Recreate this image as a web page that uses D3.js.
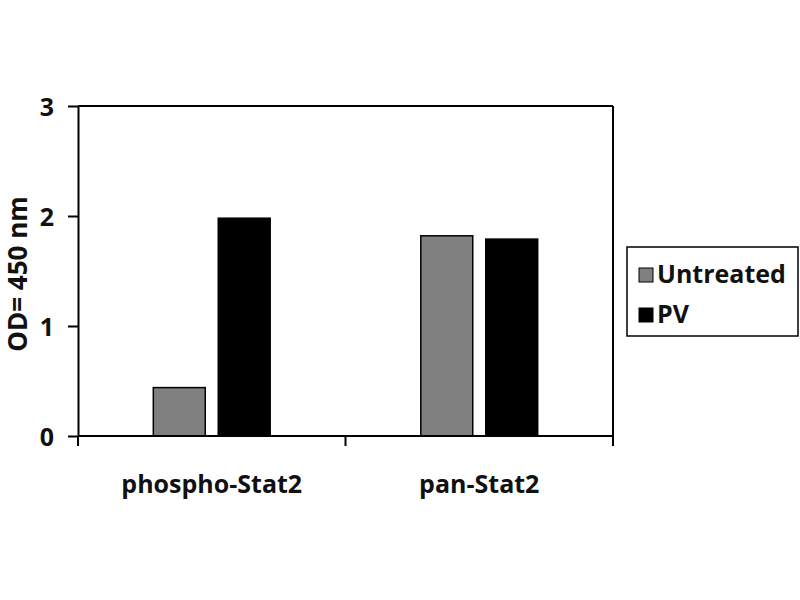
<!DOCTYPE html>
<html>
<head>
<meta charset="utf-8">
<script src="https://cdn.jsdelivr.net/npm/d3@7"></script>
<style>
  html, body { margin: 0; padding: 0; background: #fff; }
  svg { display: block; }
  text { font-family: "Open Sans", "DejaVu Sans", sans-serif; font-weight: bold; fill: #111; }
</style>
</head>
<body>
<svg id="chart" width="800" height="600"></svg>
<script>
const categories = ["phospho-Stat2", "pan-Stat2"];
const seriesNames = ["Untreated", "PV"];
const untreated = [0.44, 1.82];
const pv = [1.98, 1.79];
const yTicks = [0, 1, 2, 3];
const colors = ["#808080", "#000000"];

const svg = d3.select("#chart");
const mLeft = 78, mRight = 613, mTop = 106, mBottom = 436;

const x = d3.scaleBand().domain(categories).range([mLeft, mRight]).paddingInner(0).paddingOuter(0);
const xs = d3.scaleBand().domain(seriesNames).range([0, x.bandwidth()]).paddingInner(0.2).paddingOuter(1.16);
const y = d3.scaleLinear().domain([0, 3]).range([mBottom, mTop]);

const data = categories.map((c, i) => ({ cat: c, vals: [untreated[i], pv[i]] }));

// plot area border (top and right)
svg.append("line").attr("x1", mLeft).attr("x2", mRight).attr("y1", mTop).attr("y2", mTop)
  .attr("stroke", "#000").attr("stroke-width", 2);
svg.append("line").attr("x1", mRight).attr("x2", mRight).attr("y1", mTop).attr("y2", mBottom)
  .attr("stroke", "#000").attr("stroke-width", 2);

// bars
const g = svg.append("g");
data.forEach(d => {
  d.vals.forEach((v, j) => {
    g.append("rect")
      .attr("x", x(d.cat) + xs(seriesNames[j]))
      .attr("y", y(v))
      .attr("width", xs.bandwidth())
      .attr("height", y(0) - y(v))
      .attr("fill", colors[j])
      .attr("stroke", "#000")
      .attr("stroke-width", 1.5);
  });
});

// y axis
const yAxis = svg.append("g").attr("transform", `translate(${mLeft},0)`)
  .call(d3.axisLeft(y).tickValues(yTicks).tickFormat(d3.format("d")).tickSizeInner(10).tickSizeOuter(0).tickPadding(14));
yAxis.select(".domain").attr("stroke-width", 2);
yAxis.selectAll(".tick line").attr("stroke-width", 2);
yAxis.selectAll(".tick text").style("font-size", "25px").attr("dy", "0.36em");

// x axis with ticks at band boundaries
const xAxis = svg.append("g").attr("transform", `translate(0,${mBottom})`);
xAxis.append("line").attr("x1", mLeft).attr("x2", mRight).attr("y1", 0).attr("y2", 0)
  .attr("stroke", "#000").attr("stroke-width", 2);
const bounds = categories.map(c => x(c)).concat([x(categories[categories.length - 1]) + x.bandwidth()]);
xAxis.selectAll(".bt").data(bounds).enter().append("line")
  .attr("x1", d => d).attr("x2", d => d).attr("y1", 0).attr("y2", 10)
  .attr("stroke", "#000").attr("stroke-width", 2);
xAxis.selectAll(".cl").data(categories).enter().append("text")
  .attr("x", d => x(d) + x.bandwidth() / 2)
  .attr("y", 57)
  .attr("text-anchor", "middle")
  .style("font-size", "25px")
  .text(d => d);

// y axis title
svg.append("text")
  .attr("transform", `translate(17,274) rotate(-90)`)
  .attr("text-anchor", "middle")
  .attr("dominant-baseline", "central")
  .style("font-size", "26px")
  .text("OD= 450 nm");

// legend
const lg = svg.append("g");
lg.append("rect").attr("x", 627).attr("y", 247).attr("width", 171).attr("height", 89)
  .attr("fill", "#fff").attr("stroke", "#000").attr("stroke-width", 1.5);
seriesNames.forEach((s, i) => {
  const yy = 268 + i * 40;
  lg.append("rect").attr("x", 639).attr("y", yy).attr("width", 14).attr("height", 14)
    .attr("fill", colors[i]).attr("stroke", "#000").attr("stroke-width", 1);
  lg.append("text").attr("x", 657).attr("y", yy + 15).style("font-size", "25px").text(s);
});
</script>
</body>
</html>
